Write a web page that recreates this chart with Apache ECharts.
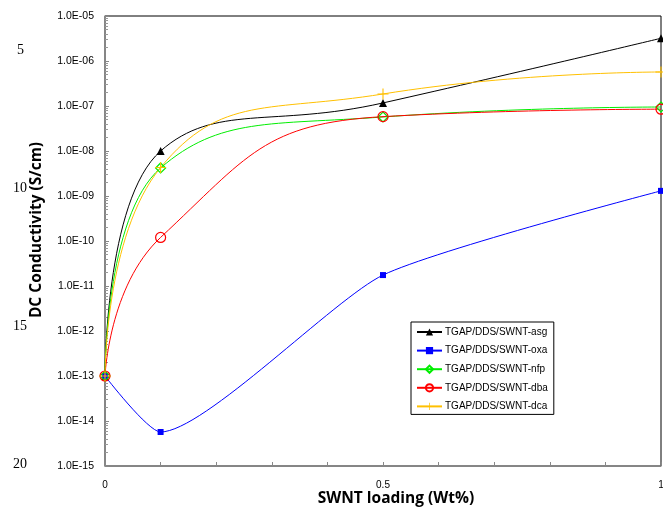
<!DOCTYPE html>
<html>
<head>
<meta charset="utf-8">
<script src="https://cdn.jsdelivr.net/npm/echarts@6/dist/echarts.min.js"></script>
<style>
  html, body { margin: 0; padding: 0; background: #fff; }
  #chart { width: 663px; height: 511px; }
</style>
</head>
<body>
<div id="chart"></div>
<script>
const loading = [0, 0.1, 0.5, 1]

const asg = [1e-13, 1.0e-8, 1.17e-7, 3.2e-6]
const oxa = [1e-13, 5.7e-15, 1.75e-11, 1.3e-9]
const nfp = [1e-13, 4.2e-9, 5.7e-8, 9.5e-8]
const dba = [1e-13, 1.2e-10, 5.8e-8, 8.5e-8]
const dca = [1e-13, 4.3e-9, 1.85e-7, 5.7e-7]

const seriesNames = [
  'TGAP/DDS/SWNT-asg',
  'TGAP/DDS/SWNT-oxa',
  'TGAP/DDS/SWNT-nfp',
  'TGAP/DDS/SWNT-dba',
  'TGAP/DDS/SWNT-dca',
]

const lineNumbers = ['5', '10', '15', '20']

const plusPath = 'path://M4.5,0h1v4.5h4.5v1h-4.5v4.5h-1v-4.5h-4.5v-1h4.5z'

function pairs(values) {
  return loading.map((x, i) => [x, values[i]])
}

function makeSeries(name, values, color, symbol, size, hollow, smooth) {
  return {
    name: name,
    type: 'line',
    data: pairs(values),
    smooth: smooth,
    symbol: symbol,
    symbolSize: size,
    showAllSymbol: true,
    lineStyle: { color: color, width: 1 },
    itemStyle: hollow
      ? { color: 'rgba(255,255,255,0)', borderColor: color, borderWidth: 1.2 }
      : { color: color, borderWidth: 0 },
    emphasis: { disabled: true },
  }
}

const chart = echarts.init(document.getElementById('chart'))

chart.setOption({
  animation: false,
  textStyle: { fontFamily: 'Liberation Sans' },
  grid: {
    left: 105,
    right: 2,
    top: 16,
    bottom: 45,
    outerBoundsMode: 'none',
    containLabel: false,
    show: true,
    borderColor: '#000',
    borderWidth: 1,
  },
  legend: {
    orient: 'vertical',
    left: 411,
    top: 322,
    padding: [5, 6, 3, 5],
    itemWidth: 25,
    itemHeight: 9,
    itemGap: 8.6,
    borderColor: '#000',
    borderWidth: 1,
    backgroundColor: '#fff',
    textStyle: { fontSize: 10, color: '#000', padding: [0, 0, 0, -2] },
    data: seriesNames,
  },
  xAxis: {
    type: 'value',
    min: 0,
    max: 1,
    interval: 0.1,
    name: 'SWNT loading (Wt%)',
    nameLocation: 'middle',
    nameGap: 25,
    nameMoveOverlap: false,
    nameTextStyle: {
      fontFamily: 'Open Sans',
      fontWeight: 'bold',
      fontSize: 15.5,
      color: '#000',
      padding: [0, 0, 0, 26],
    },
    axisLine: { show: true, lineStyle: { color: '#888', width: 1.5 } },
    axisTick: { show: true, inside: true, length: 4, lineStyle: { color: '#888' } },
    axisLabel: {
      fontSize: 10,
      color: '#000',
      margin: 14,
      formatter: (v) => (Math.round(v * 10) % 5 === 0 ? String(v) : ''),
    },
    splitLine: { show: false },
  },
  yAxis: {
    type: 'log',
    logBase: 10,
    min: 1e-15,
    max: 1e-5,
    splitNumber: 10,
    name: 'DC Conductivity (S/cm)',
    nameLocation: 'middle',
    nameGap: 60,
    nameMoveOverlap: false,
    nameTextStyle: {
      fontFamily: 'Open Sans',
      fontWeight: 'bold',
      fontSize: 15.5,
      color: '#000',
      padding: [0, 0, 0, 22],
    },
    axisLine: { show: true, lineStyle: { color: '#888', width: 1.5 } },
    axisTick: { show: true, inside: true, length: 4, lineStyle: { color: '#888' } },
    minorTick: { show: true, splitNumber: 9, length: 3, lineStyle: { color: '#999' } },
    axisLabel: {
      fontSize: 10.5,
      color: '#000',
      margin: 11,
      formatter: (v) => {
        const e = Math.round(Math.log10(v))
        return '1.0E' + (e < 0 ? '-' : '+') + String(Math.abs(e)).padStart(2, '0')
      },
    },
    splitLine: { show: false },
  },
  graphic: lineNumbers.map((t, i) => ({
    type: 'text',
    left: t.length > 1 ? 13 : 17,
    top: 43 + i * 138,
    style: {
      text: t,
      font: '14px "Liberation Serif"',
      fill: '#000',
    },
  })),
  series: [
    makeSeries(seriesNames[0], asg, '#000000', 'triangle', 8, false, 0.5),
    makeSeries(seriesNames[1], oxa, '#0000ff', 'rect', 6, false, 0.2),
    makeSeries(seriesNames[2], nfp, '#00ee00', 'diamond', 10, true, 0.5),
    makeSeries(seriesNames[3], dba, '#ff0000', 'circle', 10, true, 0.5),
    makeSeries(seriesNames[4], dca, '#ffc000', plusPath, 11, false, 0.5),
  ],
})
</script>
</body>
</html>
